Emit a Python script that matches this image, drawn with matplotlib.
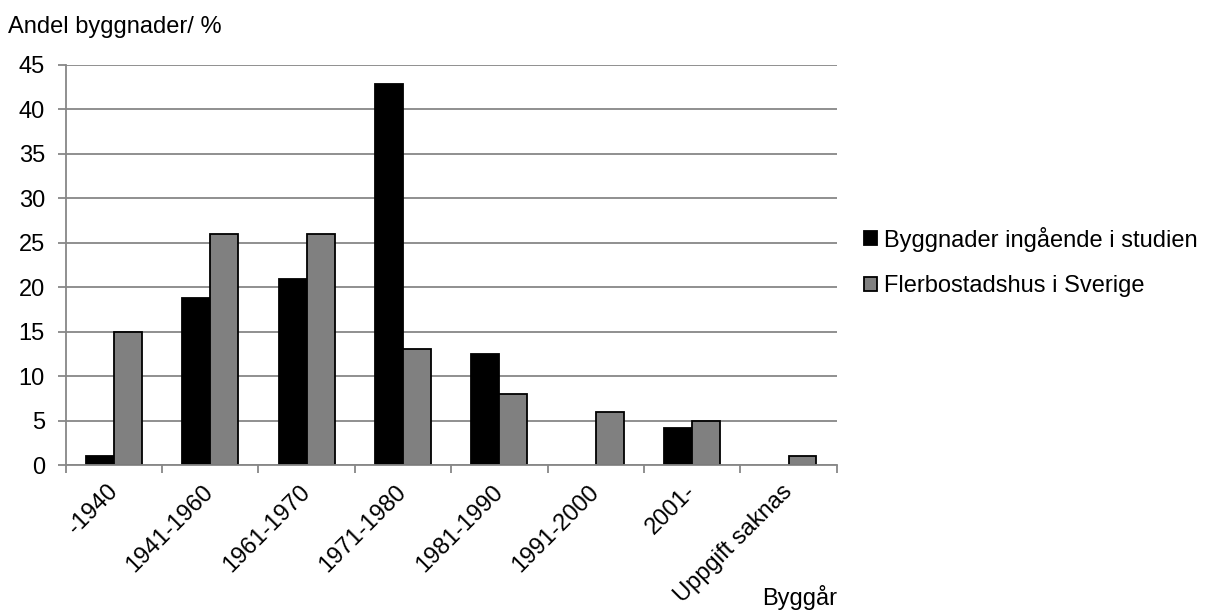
import matplotlib
matplotlib.use("Agg")
import matplotlib.pyplot as plt
import numpy as np

categories = ["-1940", "1941-1960", "1961-1970", "1971-1980", "1981-1990",
              "1991-2000", "2001-", "Uppgift saknas"]
studien = [1.0, 18.8, 20.9, 42.8, 12.5, 0, 4.2, 0]
sverige = [15, 26, 26, 13, 8, 6, 5, 1]
series_names = ["Byggnader ingående i studien", "Flerbostadshus i Sverige"]
yticks = [0, 5, 10, 15, 20, 25, 30, 35, 40, 45]

plt.rcParams['font.family'] = ['Liberation Sans', 'DejaVu Sans']
FS = 17

fig = plt.figure(figsize=(12.1, 6.15), dpi=100)
ax = fig.add_axes([0.0543, 0.2439, 0.6372, 0.6509])

x = np.arange(len(categories))
w = 0.29
grid_c = "#878787"
ax.set_axisbelow(True)
ax.yaxis.grid(True, color=grid_c, linewidth=1.3)
b1 = ax.bar(x - w/2, studien, width=w, color="black", edgecolor="black",
            linewidth=1.3, label=series_names[0])
b2 = ax.bar(x + w/2, sverige, width=w, color="#808080", edgecolor="black",
            linewidth=1.3, label=series_names[1])
for bars, vals in ((b1, studien), (b2, sverige)):
    for r, v in zip(bars, vals):
        if v == 0:
            r.set_visible(False)

ax.set_xlim(-0.5, len(categories) - 0.5)
ax.set_ylim(0, 45)
ax.set_yticks(yticks)
ax.set_yticklabels([str(t) for t in yticks], fontsize=FS)
ax.set_xticks(np.arange(len(categories) + 1) - 0.5, minor=False)
ax.set_xticklabels([])
ax.set_xticks(x, minor=True)
ax.set_xticklabels(categories, minor=True, rotation=45, ha="right",
                   va="center", rotation_mode="anchor", fontsize=FS)
ax.tick_params(axis="x", which="minor", length=0, pad=17)
ax.tick_params(axis="x", which="major", length=6, width=1.3, color=grid_c, direction="out")
ax.tick_params(axis="y", length=6, width=1.3, color=grid_c, direction="out", pad=9)
for s in ("top", "right"):
    ax.spines[s].set_visible(False)
for s in ("left", "bottom"):
    ax.spines[s].set_color(grid_c)
    ax.spines[s].set_linewidth(1.3)

fig.text(8/1210, 1 - 27/615, "Andel byggnader/ %", fontsize=FS, va="center", ha="left")
fig.text(837/1210, 1 - 598/615, "Byggår", fontsize=FS, va="center", ha="right")

leg = ax.legend(loc="center left", frameon=False,
                fontsize=FS, handlelength=0.55, handleheight=0.55, handletextpad=0.3,
                labelspacing=1.0, borderpad=0, borderaxespad=0,
                bbox_to_anchor=(864/1210, 1 - 262/615), bbox_transform=fig.transFigure)

fig.savefig("out.png", dpi=100)
